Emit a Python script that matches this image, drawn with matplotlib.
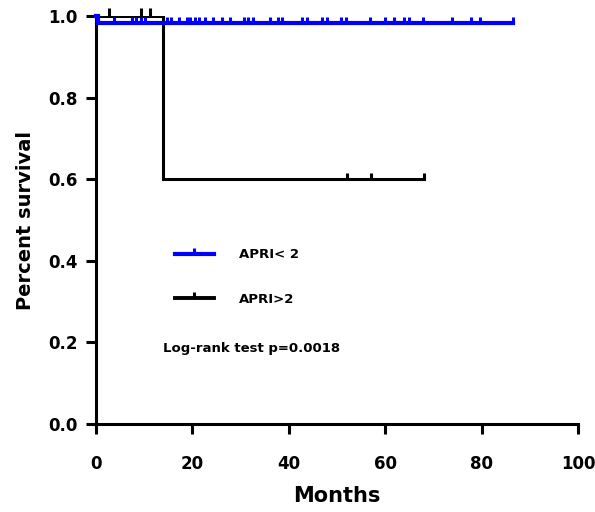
import matplotlib
matplotlib.use("Agg")
import matplotlib.pyplot as plt
from matplotlib.lines import Line2D

plt.rcParams['font.family'] = ['DejaVu Sans']
plt.rcParams['font.weight'] = 'bold'

# Data
low_times = [0, 0.5, 86.6]
low_surv = [1.0, 0.983, 0.983]
low_censor = [3.7, 7.5, 8.4, 9.3, 10.1, 14.7, 15.6, 17.3, 18.8, 19.6, 20.5, 21.4,
              22.6, 24.3, 26.1, 27.8, 30.7, 31.5, 32.6, 36.1, 37.8, 38.6, 42.7,
              43.8, 46.8, 47.9, 50.8, 51.8, 56.8, 60.0, 61.8, 63.9, 65.0, 67.8,
              73.8, 77.8, 79.7, 86.6]
high_times = [0, 14, 68]
high_surv = [1.0, 0.6, 0.6]
high_censor_t = [2.8, 9.3, 11.2, 52, 57, 68]
high_censor_s = [1.0, 1.0, 1.0, 0.6, 0.6, 0.6]

xticks = [0, 20, 40, 60, 80, 100]
yticks = [0.0, 0.2, 0.4, 0.6, 0.8, 1.0]
legend_labels = ["APRI< 2", "APRI>2"]
annotation = "Log-rank test p=0.0018"

fig = plt.figure(figsize=(5.95, 5.12), dpi=100)
ax = fig.add_axes([96/595, 1-424/512, (578-96)/595, (424-16)/512])

up_tick = [(0, 0), (0, 1)]

ax.step(high_times, high_surv, where='post', color='black', lw=2.2,
        solid_joinstyle='miter', clip_on=True, zorder=3)
ax.plot(high_censor_t[:3], high_censor_s[:3], linestyle='none', marker=up_tick,
        markersize=12, markeredgewidth=2.2, color='black', clip_on=False, zorder=3)
ax.plot(high_censor_t[3:], high_censor_s[3:], linestyle='none', marker=up_tick,
        markersize=9, markeredgewidth=2.2, color='black', clip_on=False, zorder=3)

ax.step(low_times, low_surv, where='post', color='#0000FF', lw=3.0,
        solid_joinstyle='miter', clip_on=False, zorder=4)
ax.plot(low_censor, [low_surv[-1]] * len(low_censor), linestyle='none',
        marker=up_tick, markersize=9, markeredgewidth=2.2, color='#0000FF',
        clip_on=False, zorder=4)

ax.set_xlim(0, 100)
ax.set_ylim(0, 1.0)
ax.set_xticks(xticks)
ax.set_yticks(yticks)
ax.set_xticklabels([str(v) for v in xticks], fontsize=12, fontweight='bold')
ax.set_yticklabels([f"{v:.1f}" for v in yticks], fontsize=12, fontweight='bold')
ax.tick_params(axis='both', width=2.2, length=7, direction='out')
ax.tick_params(axis='y', pad=6)
ax.tick_params(axis='x', pad=15)
for s in ['top', 'right']:
    ax.spines[s].set_visible(False)
for s in ['left', 'bottom']:
    ax.spines[s].set_linewidth(2.2)

ax.set_xlabel("Months", fontsize=15, fontweight='bold', labelpad=10)
ax.set_ylabel("Percent survival", fontsize=14, fontweight='bold', labelpad=10)

handles = [
    Line2D([0, 0.5, 1], [0, 0, 0], color='#0000FF', lw=3.0, marker=up_tick,
           markersize=9, markeredgewidth=2.2, markevery=[1]),
    Line2D([0, 0.5, 1], [0, 0, 0], color='black', lw=2.8, marker=up_tick,
           markersize=9, markeredgewidth=2.2, markevery=[1]),
]
leg = ax.legend(handles, legend_labels, loc='upper left',
                bbox_to_anchor=(0.14, 0.46), frameon=False,
                prop={'weight': 'bold', 'size': 9.5}, handlelength=2.9,
                handletextpad=1.9, labelspacing=2.4)

ax.text(0.14, 0.185, annotation, transform=ax.transAxes, fontsize=9.5,
        fontweight='bold', ha='left', va='center')

fig.savefig("out.png", dpi=100)
